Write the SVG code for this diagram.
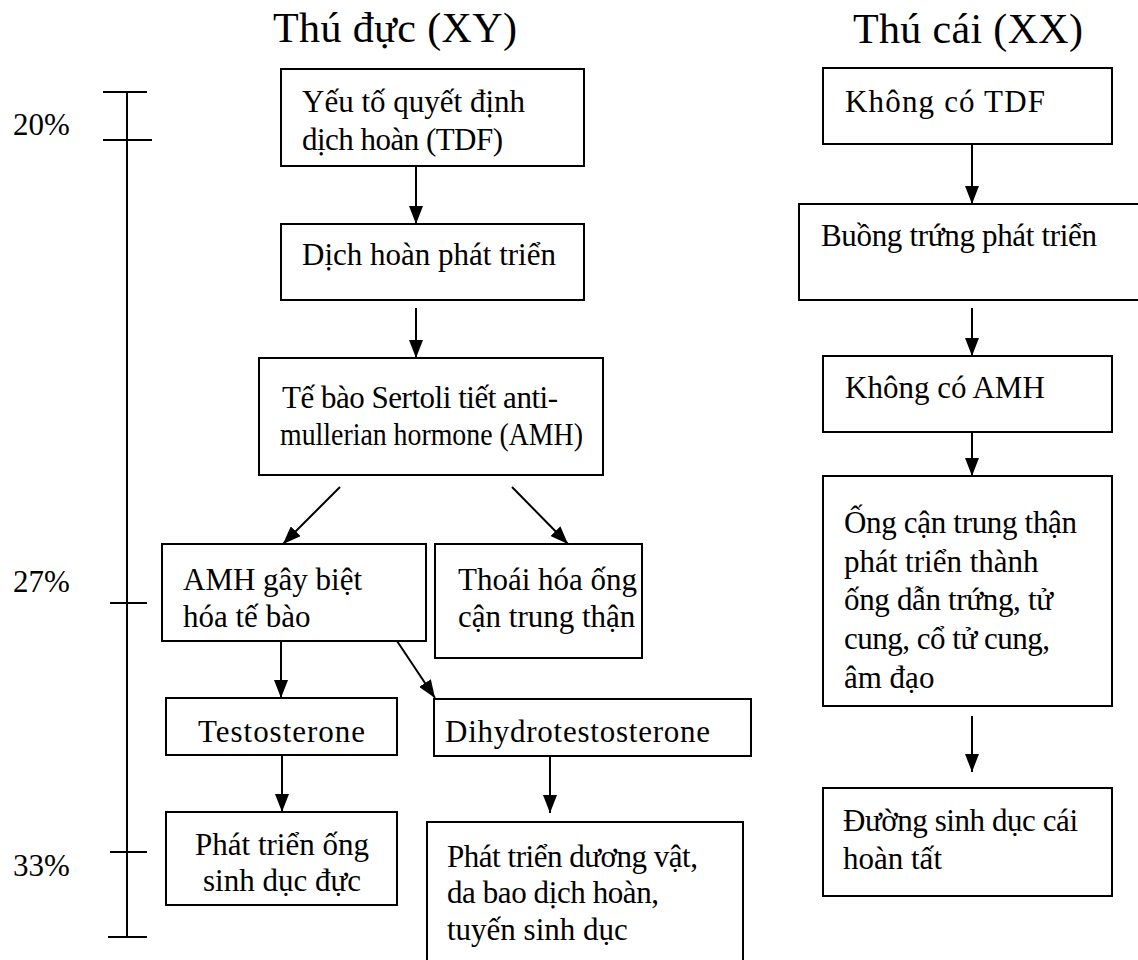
<svg xmlns="http://www.w3.org/2000/svg" width="1138" height="960" viewBox="0 0 1138 960">
<style>
text{font-family:"Liberation Serif","Times New Roman",serif;font-size:31px;fill:#000}
.title{font-size:42px}
.box{fill:#fff;stroke:#000;stroke-width:2}
.c{stroke:#000;stroke-width:2;fill:none}
.mid{text-anchor:middle}
</style>
<defs>
<marker id="ah" markerUnits="userSpaceOnUse" markerWidth="18" markerHeight="14" refX="18" refY="7" orient="auto">
<path d="M0,0 L18,7 L0,14 z" fill="#000"/>
</marker>
</defs>
<rect width="1138" height="960" fill="#fff"/>
<g id="titles">
<text class="title" x="273" y="42" textLength="244">Thú đực (XY)</text>
<text class="title" x="853" y="43" textLength="230">Thú cái (XX)</text>
</g>
<g id="scale">
<line class="c" x1="127" y1="92" x2="127" y2="937"/>
<line class="c" x1="103" y1="92" x2="147" y2="92"/>
<line class="c" x1="103" y1="140" x2="152" y2="140"/>
<line class="c" x1="110" y1="603" x2="147" y2="603"/>
<line class="c" x1="110" y1="852" x2="147" y2="852"/>
<line class="c" x1="108" y1="937" x2="147" y2="937"/>
<text x="13" y="135">20%</text>
<text x="13" y="592">27%</text>
<text x="13" y="876">33%</text>
</g>
<g id="connectors">
<line class="c" x1="416" y1="166" x2="416" y2="224" marker-end="url(#ah)"/>
<line class="c" x1="416" y1="308" x2="416" y2="358" marker-end="url(#ah)"/>
<line class="c" x1="340" y1="487" x2="283" y2="544" marker-end="url(#ah)"/>
<line class="c" x1="512" y1="487" x2="568" y2="544" marker-end="url(#ah)"/>
<line class="c" x1="281" y1="641" x2="281" y2="698" marker-end="url(#ah)"/>
<line class="c" x1="397" y1="641" x2="435" y2="698" marker-end="url(#ah)"/>
<line class="c" x1="282" y1="755" x2="282" y2="812" marker-end="url(#ah)"/>
<line class="c" x1="550" y1="756" x2="550" y2="813" marker-end="url(#ah)"/>
<line class="c" x1="972" y1="144" x2="972" y2="204" marker-end="url(#ah)"/>
<line class="c" x1="972" y1="308" x2="972" y2="356" marker-end="url(#ah)"/>
<line class="c" x1="972" y1="427" x2="972" y2="476" marker-end="url(#ah)"/>
<line class="c" x1="972" y1="716" x2="972" y2="772" marker-end="url(#ah)"/>
</g>
<g id="n_tdf">
<rect class="box" x="281" y="69" width="303" height="97"/>
<text x="302" y="112">Yếu tố quyết định</text>
<text x="302" y="150" textLength="201">dịch hoàn (TDF)</text>
</g>
<g id="n_dichhoan">
<rect class="box" x="281" y="224" width="303" height="76"/>
<text x="302" y="265">Dịch hoàn phát triển</text>
</g>
<g id="n_sertoli">
<rect class="box" x="259" y="358" width="344" height="117"/>
<text x="282" y="408" textLength="276">Tế bào Sertoli tiết anti-</text>
<text x="280" y="445" textLength="303" lengthAdjust="spacingAndGlyphs">mullerian hormone (AMH)</text>
</g>
<g id="n_amh">
<rect class="box" x="162" y="544" width="264" height="97"/>
<text x="183" y="590">AMH gây biệt</text>
<text x="183" y="627">hóa tế bào</text>
</g>
<g id="n_thoaihoa">
<rect class="box" x="435" y="544" width="207" height="114"/>
<text x="458" y="590">Thoái hóa ống</text>
<text x="458" y="627">cận trung thận</text>
</g>
<g id="n_testo">
<rect class="box" x="166" y="698" width="231" height="57"/>
<text x="198" y="742" textLength="167">Testosterone</text>
</g>
<g id="n_dht">
<rect class="box" x="434" y="699" width="317" height="57"/>
<text x="445" y="742" textLength="265">Dihydrotestosterone</text>
</g>
<g id="n_ongduc">
<rect class="box" x="166" y="812" width="231" height="93"/>
<text class="mid" x="282" y="855">Phát triển ống</text>
<text class="mid" x="282" y="891">sinh dục đực</text>
</g>
<g id="n_duongvat">
<rect class="box" x="427" y="822" width="316" height="160"/>
<text x="447" y="867" textLength="251">Phát triển dương vật,</text>
<text x="447" y="903" textLength="212">da bao dịch hoàn,</text>
<text x="447" y="940">tuyến sinh dục</text>
</g>
<g id="n_khongtdf">
<rect class="box" x="823" y="68" width="289" height="76"/>
<text x="845" y="112" textLength="200">Không có TDF</text>
</g>
<g id="n_buongtrung">
<rect class="box" x="799" y="204" width="345" height="96"/>
<text x="821" y="246" textLength="276">Buồng trứng phát triển</text>
</g>
<g id="n_khongamh">
<rect class="box" x="823" y="356" width="289" height="76"/>
<text x="845" y="398">Không có AMH</text>
</g>
<g id="n_ongcan">
<rect class="box" x="823" y="476" width="289" height="230"/>
<text x="844" y="533" textLength="233">Ống cận trung thận</text>
<text x="844" y="572">phát triển thành</text>
<text x="844" y="610" textLength="209">ống dẫn trứng, tử</text>
<text x="844" y="649" textLength="206">cung, cổ tử cung,</text>
<text x="844" y="688">âm đạo</text>
</g>
<g id="n_duongsinhduc">
<rect class="box" x="823" y="788" width="289" height="108"/>
<text x="843" y="831" textLength="235">Đường sinh dục cái</text>
<text x="843" y="869">hoàn tất</text>
</g>
</svg>
